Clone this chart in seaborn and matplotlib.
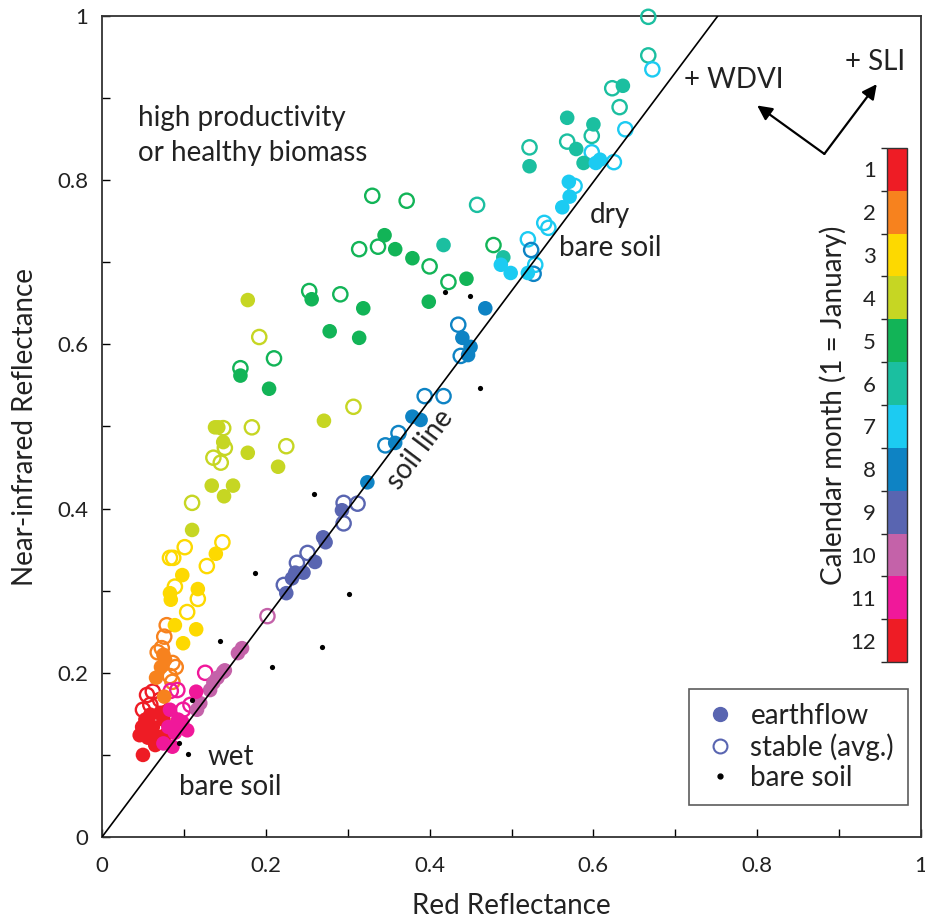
import numpy as np
import pandas as pd
import matplotlib
matplotlib.use("Agg")
import matplotlib.pyplot as plt
import seaborn as sns
from matplotlib.colors import ListedColormap, BoundaryNorm
from matplotlib.cm import ScalarMappable
from matplotlib.lines import Line2D

# ---------------- data ----------------
months = list(range(1, 13))
month_colors = ["#EE1C25", "#F7821E", "#FDD900", "#C6D623", "#12B457", "#1BBFA0",
                "#1CCBF2", "#0E83C4", "#5965B1", "#C462A9", "#F0189A", "#EE1C25"]

# earthflow (filled circles)
ef_red = [0.050, 0.059, 0.071, 0.049, 0.062, 0.075, 0.056, 0.068, 0.053, 0.065, 0.077, 0.046,
          0.075, 0.077, 0.072, 0.066, 0.076,
          0.139, 0.098, 0.083, 0.084, 0.117, 0.089, 0.115, 0.099,
          0.178, 0.138, 0.142, 0.148, 0.178, 0.215, 0.134, 0.160, 0.149, 0.110, 0.271,
          0.256, 0.278, 0.169, 0.204, 0.319, 0.314, 0.345, 0.358, 0.379, 0.399, 0.445,
          0.636, 0.568, 0.600, 0.579, 0.588, 0.522, 0.490, 0.417,
          0.603, 0.608, 0.570, 0.571, 0.562, 0.487, 0.499, 0.520,
          0.468, 0.440, 0.450, 0.447, 0.379, 0.389, 0.358, 0.324,
          0.293, 0.270, 0.273, 0.260, 0.236, 0.246, 0.232, 0.225,
          0.171, 0.166, 0.150, 0.148, 0.141, 0.136, 0.120, 0.116, 0.132,
          0.115, 0.083, 0.081, 0.089, 0.098, 0.104, 0.075, 0.086, 0.093]
ef_nir = [0.100, 0.149, 0.151, 0.134, 0.134, 0.143, 0.121, 0.122, 0.143, 0.112, 0.124, 0.124,
          0.222, 0.216, 0.207, 0.194, 0.171,
          0.345, 0.319, 0.297, 0.289, 0.302, 0.258, 0.253, 0.236,
          0.654, 0.499, 0.499, 0.481, 0.468, 0.451, 0.428, 0.428, 0.415, 0.374, 0.507,
          0.655, 0.616, 0.562, 0.546, 0.644, 0.608, 0.733, 0.716, 0.705, 0.652, 0.680,
          0.915, 0.876, 0.868, 0.838, 0.821, 0.817, 0.706, 0.721,
          0.821, 0.825, 0.798, 0.780, 0.767, 0.697, 0.687, 0.687,
          0.644, 0.608, 0.597, 0.587, 0.512, 0.508, 0.480, 0.432,
          0.398, 0.365, 0.359, 0.335, 0.322, 0.322, 0.315, 0.297,
          0.230, 0.224, 0.203, 0.201, 0.194, 0.188, 0.163, 0.155, 0.179,
          0.177, 0.155, 0.134, 0.127, 0.140, 0.130, 0.114, 0.110, 0.143]
ef_month = [1] * 12 + [2] * 5 + [3] * 8 + [4] * 11 + [5] * 11 + [6] * 8 + [7] * 8 + \
           [8] * 8 + [9] * 8 + [10] * 9 + [11] * 9

# stable, averaged (open circles)
st_red = [0.050, 0.055, 0.062, 0.059, 0.071,
          0.079, 0.076, 0.073, 0.086, 0.090, 0.083, 0.086, 0.068,
          0.101, 0.083, 0.087, 0.147, 0.128, 0.089, 0.117, 0.104,
          0.192, 0.148, 0.183, 0.150, 0.136, 0.145, 0.225, 0.110, 0.307,
          0.253, 0.291, 0.210, 0.169, 0.330, 0.372, 0.314, 0.337, 0.400, 0.423, 0.478,
          0.667, 0.667, 0.623, 0.632, 0.598, 0.568, 0.522, 0.458,
          0.672, 0.639, 0.598, 0.625, 0.577, 0.540, 0.545, 0.520, 0.529,
          0.524, 0.527, 0.435, 0.438, 0.394, 0.417, 0.362, 0.346,
          0.295, 0.312, 0.295, 0.251, 0.238, 0.222,
          0.202,
          0.084, 0.092, 0.099, 0.126, 0.108]
st_nir = [0.155, 0.173, 0.177, 0.161, 0.167,
          0.258, 0.244, 0.230, 0.212, 0.207, 0.196, 0.189, 0.225,
          0.353, 0.340, 0.340, 0.359, 0.330, 0.305, 0.290, 0.274,
          0.609, 0.498, 0.499, 0.474, 0.462, 0.456, 0.476, 0.407, 0.524,
          0.665, 0.661, 0.583, 0.571, 0.781, 0.775, 0.716, 0.719, 0.695, 0.676, 0.721,
          0.999, 0.952, 0.912, 0.889, 0.854, 0.847, 0.840, 0.770,
          0.935, 0.862, 0.834, 0.822, 0.793, 0.748, 0.742, 0.728, 0.697,
          0.715, 0.686, 0.624, 0.586, 0.537, 0.537, 0.492, 0.477,
          0.407, 0.406, 0.382, 0.346, 0.334, 0.307,
          0.269,
          0.178, 0.179, 0.155, 0.200, 0.161]
st_month = [1] * 5 + [2] * 8 + [3] * 8 + [4] * 9 + [5] * 11 + [6] * 8 + [7] * 9 + \
           [8] * 8 + [9] * 6 + [10] * 1 + [11] * 5

# bare soil (small black dots)
bs_red = [0.419, 0.449, 0.462, 0.259, 0.187, 0.302, 0.144, 0.269, 0.208, 0.110, 0.094, 0.105]
bs_nir = [0.664, 0.659, 0.547, 0.418, 0.322, 0.296, 0.239, 0.231, 0.207, 0.167, 0.114, 0.101]

soil_slope = 1.330

x_ticks = [0, 0.2, 0.4, 0.6, 0.8, 1]
x_ticklabels = ["0", "0.2", "0.4", "0.6", "0.8", "1"]
legend_labels = ["earthflow", "stable (avg.)", "bare soil"]

# ---------------- style ----------------
sns.set_theme(style="white")
plt.rcParams["font.family"] = ["Lato", "DejaVu Sans"]
FS_TICK = 16
FS_TEXT = 20
FS_LABEL = 20

fig = plt.figure(figsize=(9.25, 9.22), dpi=100)
ax = fig.add_axes([102 / 925, 85 / 922, 819 / 925, 821 / 922])

pal = dict(zip(months, month_colors))

st_df = pd.DataFrame({"red": st_red, "nir": st_nir, "month": st_month})
ef_df = pd.DataFrame({"red": ef_red, "nir": ef_nir, "month": ef_month})
bs_df = pd.DataFrame({"red": bs_red, "nir": bs_nir})

# open circles
sns.scatterplot(data=st_df, x="red", y="nir", hue="month", palette=pal, s=105,
                linewidth=1.7, legend=False, ax=ax, clip_on=False, zorder=3)
coll = ax.collections[-1]
fc = coll.get_facecolors()
coll.set_edgecolors(fc)
coll.set_facecolors("none")

# filled circles
sns.scatterplot(data=ef_df, x="red", y="nir", hue="month", palette=pal, s=110,
                linewidth=0, legend=False, ax=ax, clip_on=False, zorder=4)

# bare soil dots
sns.scatterplot(data=bs_df, x="red", y="nir", color="black", s=14, linewidth=0,
                legend=False, ax=ax, zorder=5)

# soil line
ax.axline((0, 0), slope=soil_slope, color="black", lw=1.2, zorder=6)

ax.set_xlim(0, 1)
ax.set_ylim(0, 1)
ax.set_xticks(x_ticks)
ax.set_xticklabels(x_ticklabels)
ax.set_yticks(x_ticks)
ax.set_yticklabels(x_ticklabels)
ax.set_xticks(np.arange(0.1, 1.0, 0.2), minor=True)
ax.set_yticks(np.arange(0.1, 1.0, 0.2), minor=True)
ax.tick_params(which="both", direction="in", length=6, width=1, color="black",
               bottom=True, left=True, top=False, right=False)
ax.tick_params(axis="x", which="major", labelsize=FS_TICK, pad=14, labelcolor="#222222")
ax.tick_params(axis="y", which="major", labelsize=FS_TICK, pad=10, labelcolor="#222222")
for sp in ax.spines.values():
    sp.set_color("#333333")
    sp.set_linewidth(1.3)

ax.set_xlabel("Red Reflectance", fontsize=FS_LABEL, labelpad=12, color="#222222")
ax.set_ylabel("Near-infrared Reflectance", fontsize=FS_LABEL, labelpad=14, color="#222222")

# annotations
tkw = dict(transform=ax.transAxes, fontsize=FS_TEXT, color="#222222")
ax.text(0.044, 0.876, "high productivity", ha="left", va="center", **tkw)
ax.text(0.044, 0.833, "or healthy biomass", ha="left", va="center", **tkw)
ax.text(0.620, 0.758, "dry", ha="center", va="center", **tkw)
ax.text(0.620, 0.717, "bare soil", ha="center", va="center", **tkw)
ax.text(0.157, 0.097, "wet", ha="center", va="center", **tkw)
ax.text(0.157, 0.061, "bare soil", ha="center", va="center", **tkw)
ax.text(0.388, 0.472, "soil line", ha="center", va="center", rotation=53, **tkw)
ax.text(0.771, 0.922, "+ WDVI", ha="center", va="center", **tkw)
ax.text(0.944, 0.944, "+ SLI", ha="center", va="center", **tkw)

akw = dict(arrowstyle="-|>", color="black", lw=1.6, mutation_scale=22, shrinkA=0, shrinkB=0)
ax.annotate("", xy=(0.800, 0.891), xytext=(0.882, 0.832), xycoords="axes fraction",
            textcoords="axes fraction", arrowprops=akw)
ax.annotate("", xy=(0.946, 0.917), xytext=(0.882, 0.832), xycoords="axes fraction",
            textcoords="axes fraction", arrowprops=akw)

# legend
slate = month_colors[8]
handles = [
    Line2D([], [], ls="none", marker="o", ms=10, mfc=slate, mec=slate),
    Line2D([], [], ls="none", marker="o", ms=10, mfc="none", mec=slate, mew=1.5),
    Line2D([], [], ls="none", marker="o", ms=3.5, mfc="black", mec="black"),
]
leg = ax.legend(handles, legend_labels, loc="lower right", bbox_to_anchor=(0.984, 0.039),
                borderaxespad=0, fontsize=FS_TEXT, frameon=True, fancybox=False,
                edgecolor="#333333", handletextpad=0.5, labelspacing=0.15,
                borderpad=0.5, handlelength=1.2)
leg.get_frame().set_linewidth(1.2)
for t in leg.get_texts():
    t.set_color("#222222")

# colorbar (discrete months)
cax = fig.add_axes([887 / 925, (922 - 662) / 922, 20 / 925, 514 / 922])
cmap = ListedColormap(month_colors)
norm = BoundaryNorm(np.arange(0.5, 13.5, 1), cmap.N)
cb = fig.colorbar(ScalarMappable(norm=norm, cmap=cmap), cax=cax, ticks=months, drawedges=True)
cax.invert_yaxis()
cax.yaxis.set_ticks_position("left")
cax.yaxis.set_label_position("left")
cax.tick_params(length=0, labelsize=FS_TICK, pad=8, labelcolor="#222222")
cb.dividers.set_color("white")
cb.dividers.set_linewidth(1.5)
cb.outline.set_linewidth(1.0)
cb.outline.set_edgecolor("#333333")
cb.set_label("Calendar month (1 = January)", fontsize=FS_TEXT, labelpad=2, color="#222222")

fig.savefig("out.png", dpi=100)
